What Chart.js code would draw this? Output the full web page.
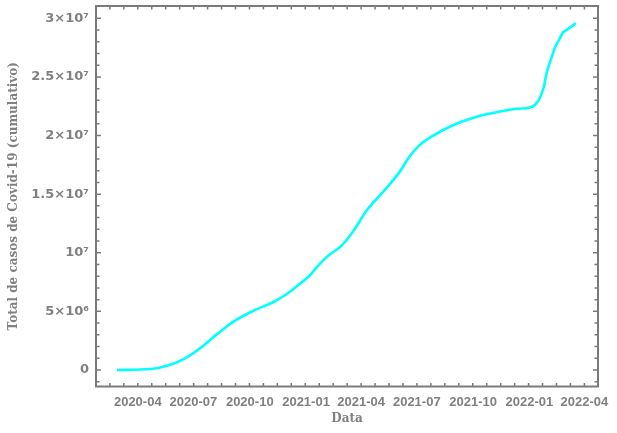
<!DOCTYPE html>
<html>
<head>
<meta charset="utf-8">
<script src="https://cdn.jsdelivr.net/npm/chart.js@4.4.1/dist/chart.umd.min.js"></script>
<style>
  html, body { margin: 0; padding: 0; background: #fff; }
  #wrap { width: 617px; height: 433px; }
</style>
</head>
<body>
<div id="wrap"><canvas id="grafico"></canvas></div>
<script>
// Dados (casos acumulados de Covid-19)
const datas = [
  '2020-02-27', '2020-04-22', '2020-05-19', '2020-06-15', '2020-07-13', '2020-08-09',
  '2020-09-05', '2020-10-08', '2020-11-09', '2020-12-01', '2020-12-23', '2021-01-08',
  '2021-01-19', '2021-02-04', '2021-03-01', '2021-03-20', '2021-04-10', '2021-05-07',
  '2021-06-03', '2021-06-19', '2021-07-06', '2021-07-28', '2021-08-30', '2021-10-07',
  '2021-11-14', '2021-12-11', '2022-01-02', '2022-01-10', '2022-01-18', '2022-01-25',
  '2022-01-29', '2022-02-06', '2022-02-12', '2022-02-20', '2022-02-25', '2022-03-03',
  '2022-03-18'
];
const casos = [
  0, 80000, 360000, 930000, 1900000, 3080000,
  4150000, 5080000, 5800000, 6500000, 7400000, 8100000,
  8800000, 9650000, 10650000, 11900000, 13600000, 15200000,
  16900000, 18200000, 19200000, 20000000, 20900000, 21600000,
  22050000, 22280000, 22400000, 22600000, 23200000, 24200000,
  25300000, 26600000, 27500000, 28300000, 28800000, 29000000,
  29600000
];

// Marcas dos eixos
const rotulosX = ['2020-04', '2020-07', '2020-10', '2021-01', '2021-04', '2021-07', '2021-10', '2022-01', '2022-04'];
const valoresY = [0, 5e6, 1e7, 1.5e7, 2e7, 2.5e7, 3e7];
const rotulosY = ['0', '5×10⁶', '10⁷', '1.5×10⁷', '2×10⁷', '2.5×10⁷', '3×10⁷'];

const cinza = '#808080';
const corMoldura = '#7a7a7a';
const DIA0 = Date.UTC(2020, 0, 1);
const emDias = (s) => {
    const p = s.split('-').map(Number);
    return (Date.UTC(p[0], p[1] - 1, p[2] || 1) - DIA0) / 86400000;
};
const diasX = rotulosX.map(emDias);
const passoMenor = (diasX[diasX.length - 1] - diasX[0]) / ((diasX.length - 1) * 4);

// Moldura e marcas menores para dentro (estilo do gráfico original)
const moldura = {
    id: 'moldura',
    afterDraw(chart) {
        const { ctx, chartArea: a, scales: { x, y } } = chart;
        ctx.save();
        ctx.strokeStyle = corMoldura;
        ctx.lineWidth = 1.5;
        ctx.beginPath();
        // marcas y (a cada 10^6; maiores a cada 5x10^6)
        for (let v = -1e6; v <= y.max; v += 1e6) {
            const py = y.getPixelForValue(v);
            if (py < a.top + 2 || py > a.bottom - 2) continue;
            const len = (Math.round(v / 1e6) % 5 === 0) ? 5 : 3.5;
            ctx.moveTo(a.left, py); ctx.lineTo(a.left + len, py);
            ctx.moveTo(a.right, py); ctx.lineTo(a.right - len, py);
        }
        // marcas x
        const k0 = Math.ceil((x.min - diasX[0]) / passoMenor);
        for (let k = k0; diasX[0] + k * passoMenor <= x.max; k++) {
            const px = x.getPixelForValue(diasX[0] + k * passoMenor);
            if (px < a.left + 2 || px > a.right - 2) continue;
            ctx.moveTo(px, a.bottom); ctx.lineTo(px, a.bottom - 3.5);
            ctx.moveTo(px, a.top); ctx.lineTo(px, a.top + 3.5);
        }
        ctx.stroke();
        ctx.lineWidth = 2;
        ctx.strokeRect(a.left, a.top, a.right - a.left, a.bottom - a.top);
        ctx.restore();
    }
};

const ctx = document.getElementById('grafico').getContext('2d');
new Chart(ctx, {
    type: 'line',
    data: {
        datasets: [{
            data: datas.map((d, i) => ({ x: emDias(d), y: casos[i] })),
            borderColor: '#00ffff',
            borderWidth: 2.6,
            pointRadius: 0,
            cubicInterpolationMode: 'monotone',
            fill: false
        }]
    },
    options: {
        responsive: true,
        maintainAspectRatio: false,
        animation: false,
        layout: { padding: { left: 0, top: 6, right: 19, bottom: 0 } },
        plugins: { legend: { display: false }, tooltip: { enabled: false } },
        scales: {
            x: {
                type: 'linear',
                min: 22.7,
                max: 843.2,
                grid: { display: false, drawTicks: false },
                border: { display: false },
                afterBuildTicks: (s) => { s.ticks = diasX.map(v => ({ value: v })); },
                afterFit: (s) => { s.height = 46.5; s.paddingLeft = 0; s.paddingRight = 0; },
                ticks: {
                    color: cinza,
                    padding: 8,
                    maxRotation: 0,
                    autoSkip: false,
                    font: { family: 'Liberation Sans', size: 13, weight: 'bold' },
                    callback: (v, i) => rotulosX[i]
                },
                title: {
                    display: true,
                    text: 'Data',
                    color: cinza,
                    padding: { top: 0, bottom: 7 },
                    font: { family: 'DejaVu Serif', size: 12, weight: 'bold' }
                }
            },
            y: {
                min: -1.41e6,
                max: 3.105e7,
                grid: { display: false, drawTicks: false },
                border: { display: false },
                afterBuildTicks: (s) => { s.ticks = valoresY.map(v => ({ value: v })); },
                afterFit: (s) => { s.width = 96; s.paddingTop = 0; s.paddingBottom = 0; },
                ticks: {
                    color: cinza,
                    padding: 7,
                    autoSkip: false,
                    font: { family: 'DejaVu Sans', size: 13, weight: 'bold' },
                    callback: (v, i) => rotulosY[i]
                },
                title: {
                    display: true,
                    text: 'Total de casos de Covid-19 (cumulativo)',
                    color: cinza,
                    padding: { top: 7, bottom: 0 },
                    font: { family: 'DejaVu Serif', size: 12, weight: 'bold' }
                }
            }
        }
    },
    plugins: [moldura]
});
</script>
</body>
</html>
